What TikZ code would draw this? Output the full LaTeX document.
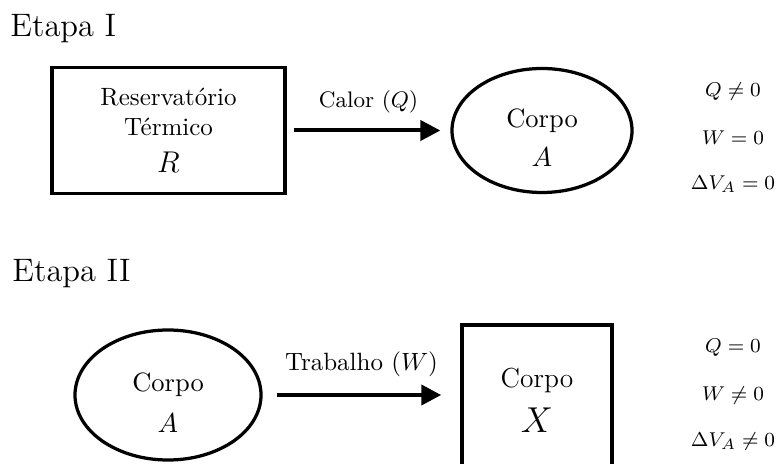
\documentclass[tikz,border=0pt]{standalone}
\usepackage{amsmath}
\usepackage{amssymb}
\usepackage{tikz}
\usetikzlibrary{shapes.geometric, positioning, arrows.meta}

\begin{document}
\begin{tikzpicture}[x=0.4pt, y=-0.4pt, font=\normalsize,
    box/.style={draw, line width=1.4pt, inner sep=0pt, align=center},
    body/.style={draw, ellipse, line width=1.3pt, inner sep=0pt},
    inside/.style={align=center, font=\fontsize{10.6}{12.5}\selectfont, yshift=-3pt},
    flow/.style={-{Triangle[length=8pt, width=8pt]}, line width=1.6pt},
    stage/.style={anchor=base west, inner sep=0pt, font=\fontsize{13}{15}\selectfont},
    cond/.style={font=\fontsize{8.2}{10}\selectfont}]
    \useasboundingbox (0,0) rectangle (777,464);

    % Etapa I
    \node[stage] (etapa1) at (10,37) {Etapa I};
    \node[box, minimum width=93.2pt, minimum height=50.4pt] (reserv) at (168.5,130.5)
        {Reservatório\\Térmico\\[3pt]\large $R$};
    \node[body, minimum width=72pt, minimum height=49.6pt,
        label={[inside]center:Corpo\\[3pt]$A$}] (corpoA) at (542,130.5) {};
    \draw[flow, shorten <=2.8pt, shorten >=4pt] (reserv) -- (corpoA)
        node[midway, above=3pt]{\small Calor ($Q$)};

    \node[cond] (q1) at (733,92) {$Q\neq0$};
    \node[cond] (w1) at (733,138) {$W=0$};
    \node[cond] (v1) at (733,184) {$\Delta V_A=0$};

    % Etapa II
    \node[stage] (etapa2) at (12,282) {Etapa II};
    \node[body, minimum width=74.4pt, minimum height=52pt,
        label={[inside]center:Corpo\\[4pt]$A$}] (corpoA2) at (168,395) {};
    \node[box, minimum width=60pt, minimum height=60pt,
        font=\fontsize{11}{13}\selectfont] (corpoX) at (537,400)
        {Corpo\\[5pt]\Large $X$};
    \draw[flow, shorten <=5.6pt, shorten >=7.6pt] (corpoA2.east) -- (corpoA2.east -| corpoX.west)
        node[midway, above=3pt]{Trabalho ($W$)};

    \node[cond] (q2) at (733,348) {$Q=0$};
    \node[cond] (w2) at (733,395) {$W\neq0$};
    \node[cond] (v2) at (733,441) {$\Delta V_A\neq0$};
\end{tikzpicture}
\end{document}
